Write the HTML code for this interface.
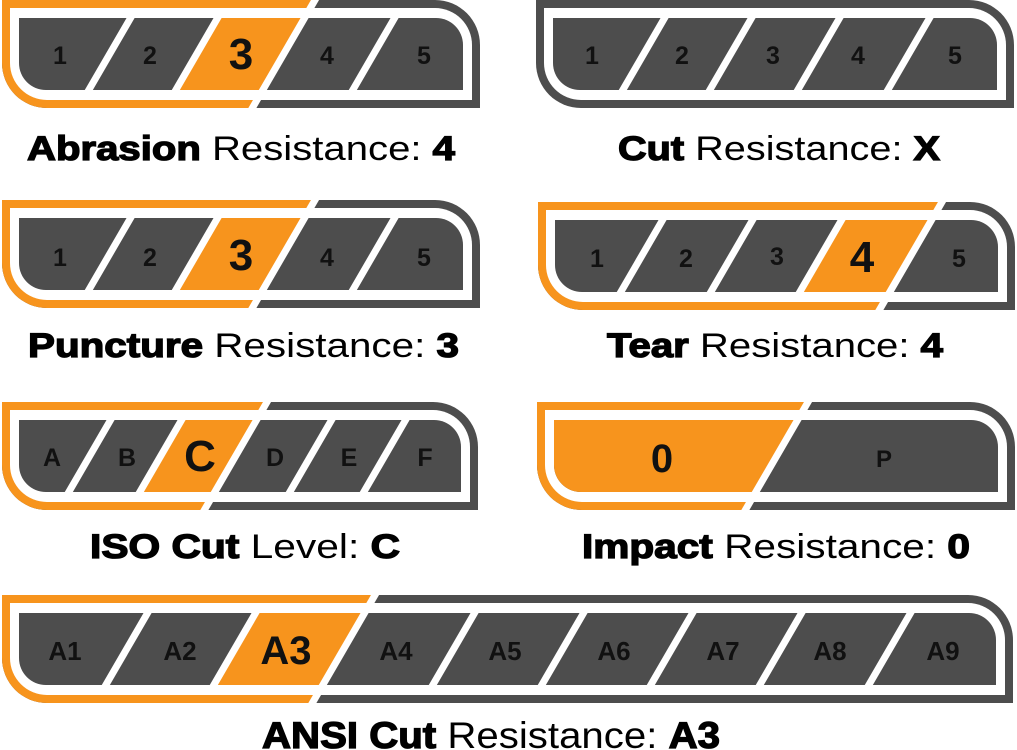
<!DOCTYPE html>
<html><head><meta charset="utf-8"><style>
html,body{margin:0;padding:0;background:#fff;}
svg{display:block;}
text{font-family:"Liberation Sans",Arial,sans-serif;fill:#111;}
.s{font-weight:bold;font-size:25px;text-anchor:middle;}
.b{font-weight:bold;font-size:44px;text-anchor:middle;}
.l{font-size:34px;fill:#000;}
.l .k{font-weight:bold;stroke:#000;stroke-width:1.3;}
</style></head><body>
<svg id="svg" width="1017" height="750" viewBox="0 0 1017 750" xmlns="http://www.w3.org/2000/svg">
<defs id="defs"></defs>
<g id="shapes"></g>
<g>
<text class="s" x="60" y="64">1</text><text class="s" x="150" y="64">2</text><text class="b" x="241" y="69">3</text><text class="s" x="327" y="64">4</text><text class="s" x="424" y="64">5</text>
<text class="l" x="27" y="160" textLength="428" lengthAdjust="spacingAndGlyphs"><tspan class="k">Abrasion</tspan> Resistance: <tspan class="k">4</tspan></text>

<text class="s" x="592" y="64">1</text><text class="s" x="682" y="64">2</text><text class="s" x="773" y="64">3</text><text class="s" x="858" y="64">4</text><text class="s" x="955" y="64">5</text>
<text class="l" x="618" y="160" textLength="322" lengthAdjust="spacingAndGlyphs"><tspan class="k">Cut</tspan> Resistance: <tspan class="k">X</tspan></text>

<text class="s" x="60" y="266">1</text><text class="s" x="150" y="266">2</text><text class="b" x="241" y="270">3</text><text class="s" x="327" y="266">4</text><text class="s" x="424" y="266">5</text>
<text class="l" x="28" y="357" textLength="431" lengthAdjust="spacingAndGlyphs"><tspan class="k">Puncture</tspan> Resistance: <tspan class="k">3</tspan></text>

<text class="s" x="597" y="267">1</text><text class="s" x="686" y="267">2</text><text class="s" x="777" y="265">3</text><text class="b" x="862" y="272">4</text><text class="s" x="959" y="267">5</text>
<text class="l" x="607" y="357" textLength="336" lengthAdjust="spacingAndGlyphs"><tspan class="k">Tear</tspan> Resistance: <tspan class="k">4</tspan></text>

<text class="s" x="52" y="466">A</text><text class="s" x="127" y="466">B</text><text class="b" x="200" y="471">C</text><text class="s" x="275" y="466">D</text><text class="s" x="349" y="466">E</text><text class="s" x="425" y="466">F</text>
<text class="l" x="90" y="558" textLength="310" lengthAdjust="spacingAndGlyphs"><tspan class="k">ISO Cut</tspan> Level: <tspan class="k">C</tspan></text>

<text class="b" x="662" y="472" style="font-size:40px">0</text><text class="s" x="884" y="467" style="font-size:24px">P</text>
<text class="l" x="582" y="558" textLength="388" lengthAdjust="spacingAndGlyphs"><tspan class="k">Impact</tspan> Resistance: <tspan class="k">0</tspan></text>

<text class="s" x="65" y="660" style="font-size:26px">A1</text><text class="s" x="180" y="660" style="font-size:26px">A2</text><text class="b" x="286" y="664" style="font-size:40px">A3</text><text class="s" x="396" y="660" style="font-size:26px">A4</text><text class="s" x="505" y="660" style="font-size:26px">A5</text><text class="s" x="614" y="660" style="font-size:26px">A6</text><text class="s" x="723" y="660" style="font-size:26px">A7</text><text class="s" x="830" y="660" style="font-size:26px">A8</text><text class="s" x="943" y="660" style="font-size:26px">A9</text>
<text class="l" x="262" y="748" textLength="458" lengthAdjust="spacingAndGlyphs" style="font-size:37px"><tspan class="k">ANSI Cut</tspan> Resistance: <tspan class="k">A3</tspan></text>
</g>
</svg>
<script>
(function(){
var NS="http://www.w3.org/2000/svg",O="#f7941d",G="#4d4d4d",S=0.58;
var g=document.getElementById("shapes"),defs=document.getElementById("defs"),id=0;
function el(t,a,p){var e=document.createElementNS(NS,t);for(var k in a)e.setAttribute(k,a[k]);(p||g).appendChild(e);return e;}
function shape(x0,y0,x1,y1,r){return "M"+x0+" "+y0+"H"+(x1-r)+"A"+r+" "+r+" 0 0 1 "+x1+" "+(y0+r)+"V"+y1+"H"+(x0+r)+"A"+r+" "+r+" 0 0 1 "+x0+" "+(y1-r)+"Z";}
function bx(b,y,y0){return b-(y-y0)*S;}
function badge(x0,y0,x1,y1,bs,sel){
  if(sel>=0){
    var b=bs[sel]!==undefined?bs[sel]:x1+200;
    var cid="c"+(id++);var cp=el("clipPath",{id:cid},defs);
    el("polygon",{points:(x0-5)+","+(y0-5)+" "+bx(b,y0-5,y0)+","+(y0-5)+" "+bx(b,y1+5,y0)+","+(y1+5)+" "+(x0-5)+","+(y1+5)},cp);
    el("path",{d:shape(x0,y0,x1,y1,45),fill:G});
    el("path",{d:shape(x0,y0,x1,y1,45),fill:O,"clip-path":"url(#"+cid+")"});
  } else el("path",{d:shape(x0,y0,x1,y1,45),fill:G});
  el("path",{d:shape(x0+8,y0+8,x1-8,y1-8,37),fill:"#fff"});
  var ip=shape(x0+17,y0+18,x1-17,y1-18,27);
  el("path",{d:ip,fill:G});
  if(sel>=0){
    var cid2="c"+(id++);var cp2=el("clipPath",{id:cid2},defs);el("path",{d:ip},cp2);
    var a=sel>0?bs[sel-1]:x0-100,b2=bs[sel]!==undefined?bs[sel]:x1+200;
    el("polygon",{points:bx(a,y0,y0)+","+y0+" "+bx(b2,y0,y0)+","+y0+" "+bx(b2,y1,y0)+","+y1+" "+bx(a,y1,y0)+","+y1,fill:O,"clip-path":"url(#"+cid2+")"});
  }
  bs.forEach(function(b,i){
    var ya=(i===sel)?y0-3:y0+10,yb=(i===sel)?y1+3:y1-10;
    el("line",{x1:bx(b,ya,y0),y1:ya,x2:bx(b,yb,y0),y2:yb,stroke:"#fff","stroke-width":7});
  });
}
badge(2,0,480,108,[141,228,315,405],2);
badge(536,0,1014,108,[675,762,850,940],-1);
badge(2,200,480,308,[141,228,315,405],2);
badge(538,202,1015,310,[673,763,852,942],3);
badge(2,402,478,510,[121,192,267,342,416],2);
badge(537,402,1015,510,[808],0);
badge(2,595,1013,703,[158,266,375,485,594,703,812,921],2);
})();
</script>
</body></html>
